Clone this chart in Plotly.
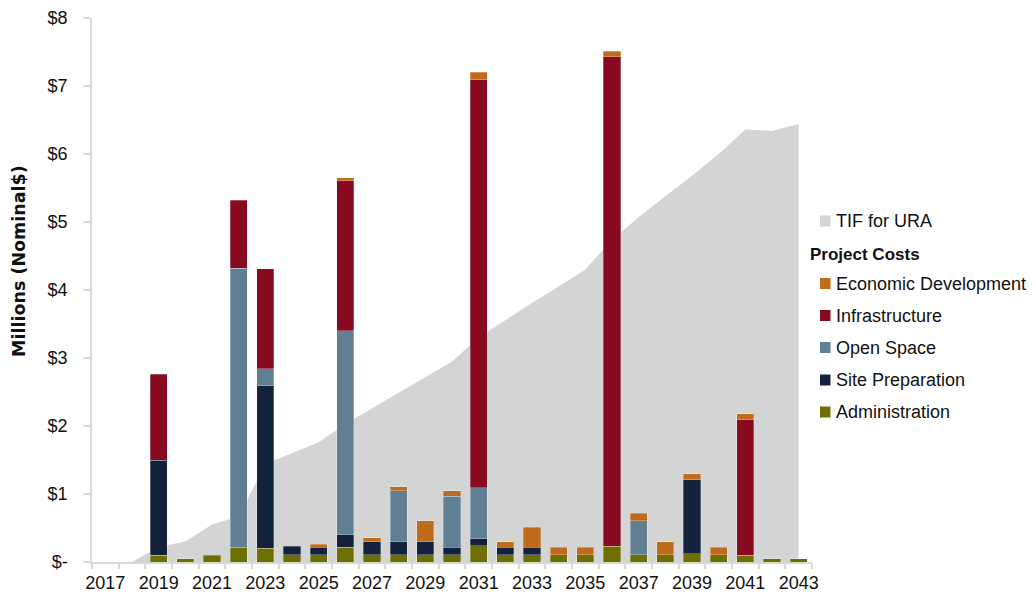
import plotly.graph_objects as go

years = [str(y) for y in range(2017, 2044)]
tick_text = [y if int(y) % 2 == 1 else "" for y in years]

tif_for_ura = [0, 0, 0.22, 0.30, 0.55, 0.67, 1.44, 1.60, 1.76, 2.03, 2.26, 2.49, 2.72, 2.95,
               3.30, 3.56, 3.81, 4.05, 4.30, 4.74, 5.07, 5.38, 5.68, 6.00, 6.36, 6.34, 6.44]
administration = [0, 0, 0.10, 0.05, 0.10, 0.22, 0.20, 0.11, 0.11, 0.22, 0.11, 0.11, 0.11, 0.11,
                  0.24, 0.11, 0.11, 0.11, 0.11, 0.23, 0.11, 0.11, 0.12, 0.11, 0.10, 0.05, 0.05]
site_preparation = [0, 0, 1.40, 0, 0, 0, 2.39, 0.12, 0.11, 0.18, 0.19, 0.19, 0.19, 0.11,
                    0.10, 0.11, 0.11, 0, 0, 0, 0, 0, 1.09, 0, 0, 0, 0]
open_space = [0, 0, 0, 0, 0, 4.10, 0.25, 0, 0, 3.00, 0, 0.75, 0, 0.75,
              0.75, 0, 0, 0, 0, 0, 0.50, 0, 0, 0, 0, 0, 0]
infrastructure = [0, 0, 1.26, 0, 0, 1.00, 1.47, 0, 0, 2.21, 0, 0, 0, 0,
                  6.00, 0, 0, 0, 0, 7.20, 0, 0, 0, 0, 1.99, 0, 0]
economic_development = [0, 0, 0, 0, 0, 0, 0, 0, 0.04, 0.04, 0.06, 0.06, 0.31, 0.08,
                        0.11, 0.08, 0.29, 0.11, 0.11, 0.08, 0.11, 0.19, 0.09, 0.11, 0.09, 0, 0]

y_tick_vals = [0, 1, 2, 3, 4, 5, 6, 7, 8]
y_tick_text = ["$-", "$1", "$2", "$3", "$4", "$5", "$6", "$7", "$8"]

series = [
    ("Administration", administration, "#6E6F00"),
    ("Site Preparation", site_preparation, "#13223A"),
    ("Open Space", open_space, "#5F7F93"),
    ("Infrastructure", infrastructure, "#870A20"),
    ("Economic Development", economic_development, "#C06A1C"),
]
tif_color = "#D3D5D5"

W, H = 1034, 594
L, R, T, B = 92, 222, 18, 32
PW, PH = W - L - R, H - T - B
FONT = "Liberation Sans, Arial, sans-serif"
AXC = "#D9D9D9"


def px(x):
    return (x - L) / PW


def py(y):
    return (H - B - y) / PH


fig = go.Figure()
fig.add_trace(go.Scatter(x=years, y=tif_for_ura, mode="lines", line=dict(width=0, color=tif_color),
                         fill="tozeroy", fillcolor=tif_color, name="TIF for URA",
                         showlegend=False, hoverinfo="skip", xaxis="x", yaxis="y"))
for name, vals, col in series:
    fig.add_trace(go.Bar(x=years, y=[v if v else None for v in vals], name=name,
                         marker=dict(color=col, line=dict(color="rgba(255,255,255,0.35)", width=0.8)),
                         showlegend=False, xaxis="x2", yaxis="y2"))

xcommon = dict(type="category", categoryorder="array", categoryarray=years,
               range=[-0.5, len(years) - 0.5], automargin=False)
fig.update_layout(
    width=W, height=H, barmode="stack", bargap=0.36,
    margin=dict(l=L, r=R, t=T, b=B, pad=0, autoexpand=False),
    paper_bgcolor="white", plot_bgcolor="white",
    font=dict(family=FONT, size=18, color="#111111"),
    xaxis=dict(**xcommon, tickmode="array", tickvals=years, ticktext=tick_text, tickangle=0,
               tickson="boundaries", ticks="outside", ticklen=5, tickcolor=AXC, tickwidth=1.5,
               showline=True, linecolor=AXC, linewidth=1.5, showgrid=False, zeroline=False,
               tickfont=dict(size=18, color="#111111"), ticklabelstandoff=4),
    yaxis=dict(range=[0, 8], tickmode="array", tickvals=y_tick_vals, ticktext=y_tick_text,
               ticks="outside", ticklen=7, tickcolor=AXC, tickwidth=1.5, automargin=False,
               showline=True, linecolor=AXC, linewidth=1.5, showgrid=False, zeroline=False,
               tickfont=dict(size=18, color="#111111"), ticklabelstandoff=12),
    xaxis2=dict(**xcommon, overlaying="x", visible=False, showgrid=False, zeroline=False),
    yaxis2=dict(range=[0, 8], overlaying="y", visible=False, showgrid=False, zeroline=False,
                automargin=False),
)

# y-axis title
fig.add_annotation(text="<b>Millions (Nominal$)</b>", textangle=-90, xref="paper", yref="paper",
                   x=px(19), y=py(261), xanchor="center", yanchor="middle", showarrow=False,
                   font=dict(size=17.5, family="DejaVu Sans, sans-serif", color="#111111"))

# legend
legend_rows = [("TIF for URA", tif_color, 221)]
header_y = 254
for (name, vals, col), yy in zip(series[::-1], [283.5, 315.5, 347.5, 380, 412]):
    legend_rows.append((name, col, yy))

for name, col, yy in legend_rows:
    fig.add_shape(type="rect", xref="paper", yref="paper", x0=px(820), x1=px(830.5),
                  y0=py(yy - 5.5), y1=py(yy + 5.5), fillcolor=col, line=dict(width=0))
    fig.add_annotation(text=name, xref="paper", yref="paper", x=px(834), y=py(yy),
                       xanchor="left", yanchor="middle", showarrow=False,
                       font=dict(size=18, family=FONT, color="#111111"))
fig.add_annotation(text="<b>Project Costs</b>", xref="paper", yref="paper", x=px(808), y=py(header_y),
                   xanchor="left", yanchor="middle", showarrow=False,
                   font=dict(size=17, family=FONT, color="#111111"))

fig.write_html("out.html")
